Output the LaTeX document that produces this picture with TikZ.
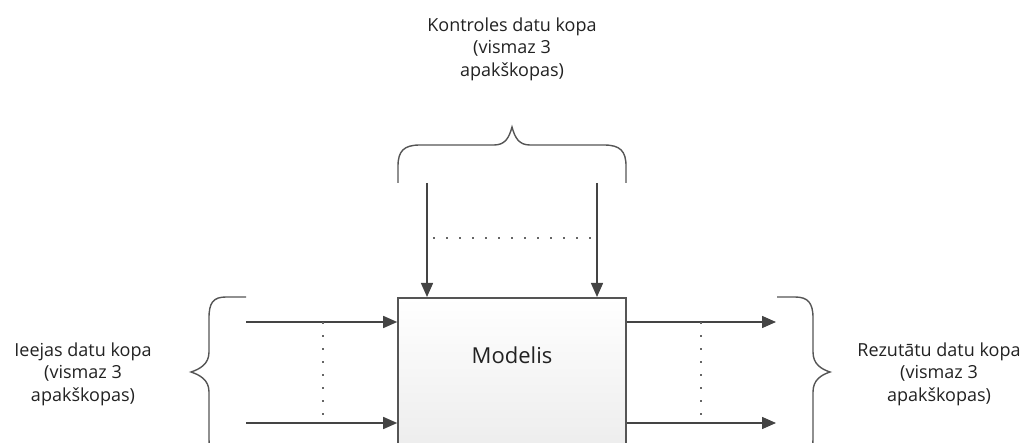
\documentclass[tikz,border=0pt]{standalone}
\usepackage{fontspec}
\setmainfont{Open Sans}
\usetikzlibrary{arrows.meta}
\definecolor{LineGray}{HTML}{444444}
\definecolor{DotGray}{HTML}{666666}
\definecolor{BoxEdge}{HTML}{555555}
\definecolor{TextDark}{HTML}{222222}

\begin{document}
\begin{tikzpicture}[x=1pt, y=-1pt,
    font=\fontsize{18}{22.5}\selectfont,
    lbl/.style={align=center, text=TextDark, inner sep=0pt},
    arr/.style={-{Triangle[length=14pt,width=12pt]}, line width=1.4pt, color=LineGray},
    brc/.style={line width=1.4pt, color=BoxEdge},
    dots/.style={line width=1.8pt, color=DotGray, dash pattern=on 1.8pt off 11.2pt},
    modelbox/.style={draw=BoxEdge, line width=1.6pt, top color=white, bottom color=black!9,
      minimum width=228pt, minimum height=190pt, anchor=north, inner sep=0pt}
  ]
  \useasboundingbox (0,0) rectangle (1027,443);
  \clip (0,0) rectangle (1027,443);

  % model block, runs off the bottom edge
  \node[modelbox] (model) at (512,297) {};
  \node[lbl, font=\fontsize{22}{26}\selectfont] (modeltxt) at (512,355) {Modelis};

  % labels of the three data sets
  \node[lbl] (ctrl) at (512,49) {Kontroles datu kopa\\(vismaz 3\\apakškopas)};
  \node[lbl] (inp) at (83,374) {Ieejas datu kopa\\(vismaz 3\\apakškopas)};
  \node[lbl] (outp) at (939,374) {Rezutātu datu kopa\\(vismaz 3\\apakškopas)};

  % free ends of the connectors
  \coordinate (c1) at (427,183);
  \coordinate (c2) at (597,183);
  \coordinate (i1) at (246,322);
  \coordinate (i2) at (246,423);
  \coordinate (o1) at (776,322);
  \coordinate (o2) at (776,423);

  % braces
  \draw[brc] (398,183) -- (398,166) .. controls (398,151) and (404,145) .. (420,145)
    -- (494,145) .. controls (505,145) and (509,138) .. (512,127)
    .. controls (515,138) and (519,145) .. (530,145) -- (604,145)
    .. controls (620,145) and (626,151) .. (626,166) -- (626,183);
  \draw[brc] (246,297) -- (226,297) .. controls (213,297) and (209,303) .. (209,318)
    -- (209,352) .. controls (209,364) and (200,369) .. (191,372)
    .. controls (200,375) and (209,380) .. (209,392) -- (209,438)
    .. controls (209,453) and (213,459) .. (226,459) -- (246,459);
  \draw[brc] (777,297) -- (795,297) .. controls (808,297) and (813,303) .. (813,318)
    -- (813,352) .. controls (813,364) and (821,369) .. (830,372)
    .. controls (821,375) and (813,380) .. (813,392) -- (813,438)
    .. controls (813,453) and (808,459) .. (795,459) -- (777,459);

  % connectors
  \draw[arr] (c1) -- (c1 |- model.north);
  \draw[arr] (c2) -- (c2 |- model.north);
  \draw[arr] (i1) -- (i1 -| model.west);
  \draw[arr] (i2) -- (i2 -| model.west);
  \draw[arr] (model.east |- o1) -- (o1);
  \draw[arr] (model.east |- o2) -- (o2);

  % dotted "and so on" marks
  \draw[dots] (433,238) -- (598,238);
  \draw[dots] (323,322) -- (323,418);
  \draw[dots] (701,322) -- (701,418);
\end{tikzpicture}
\end{document}
